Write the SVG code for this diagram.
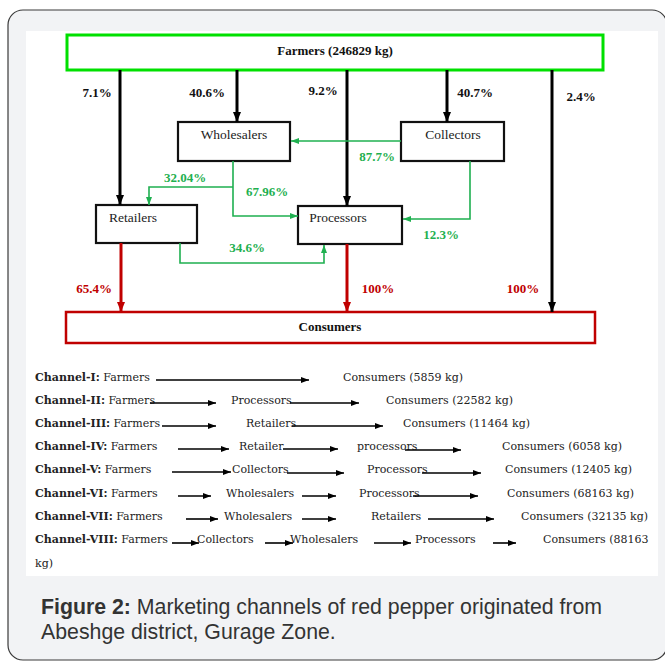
<svg xmlns="http://www.w3.org/2000/svg" width="665" height="664" viewBox="0 0 665 664">
<defs>
<style>
.frame{fill:#f2f3f5;stroke:#3a3a3a;stroke-width:1.2}
.box{fill:#fff;stroke:#111;stroke-width:2.2}
.nl{font-family:"Liberation Serif",serif;font-size:13.5px;fill:#222;text-anchor:middle}
.bl{font-family:"Liberation Serif",serif;font-size:13px;font-weight:bold;fill:#111;text-anchor:middle}
.gp{font-family:"Liberation Serif",serif;font-size:13px;font-weight:bold;fill:#1fb050;text-anchor:middle}
.rp{font-family:"Liberation Serif",serif;font-size:13px;font-weight:bold;fill:#c00000;text-anchor:middle}
.blk{stroke:#000;stroke-width:3;fill:none}
.red{stroke:#c00000;stroke-width:3;fill:none}
.grn{stroke:#1fb050;stroke-width:1.6;fill:none}
.ch{stroke:#000;stroke-width:1.6;fill:none}
.ct{font-family:"DejaVu Serif",serif;font-size:11px;fill:#222}
.cap{font-family:"Liberation Sans",Arial,sans-serif;font-size:21.3px;fill:#333}
</style>
<marker id="ab" viewBox="0 0 10 8" refX="10" refY="4" markerWidth="10" markerHeight="8" markerUnits="userSpaceOnUse" orient="auto"><path d="M0,0 L10,4 L0,8 z" fill="#000"/></marker>
<marker id="ar" viewBox="0 0 10 8" refX="10" refY="4" markerWidth="10" markerHeight="8" markerUnits="userSpaceOnUse" orient="auto"><path d="M0,0 L10,4 L0,8 z" fill="#c00000"/></marker>
<marker id="ag" viewBox="0 0 8 6" refX="8" refY="3" markerWidth="8" markerHeight="6" markerUnits="userSpaceOnUse" orient="auto"><path d="M0,0 L8,3 L0,6 z" fill="#1fb050"/></marker>
<marker id="ac" viewBox="0 0 8 6" refX="8" refY="3" markerWidth="8" markerHeight="6" markerUnits="userSpaceOnUse" orient="auto"><path d="M0,0 L8,3 L0,6 z" fill="#000"/></marker>
</defs>
<rect x="8" y="10" width="659" height="650" rx="15" class="frame"/>
<rect x="26" y="31" width="632" height="545" fill="#fff"/>

<g id="farmers"><rect x="67" y="35" width="536" height="35" fill="#fff" stroke="#00e000" stroke-width="3"/><text x="335" y="55" class="bl" font-size="13.5px">Farmers (246829 kg)</text></g>
<g id="wholesalers"><rect x="178" y="122" width="112" height="39" class="box"/><text x="234" y="139" class="nl">Wholesalers</text></g>
<g id="collectors"><rect x="401" y="122" width="103" height="39" class="box"/><text x="453" y="139" class="nl">Collectors</text></g>
<g id="retailers"><rect x="96" y="205" width="101" height="38" class="box"/><text x="133" y="222" class="nl">Retailers</text></g>
<g id="processors"><rect x="298" y="206" width="104" height="38" class="box"/><text x="338" y="222" class="nl">Processors</text></g>
<g id="consumers"><rect x="66" y="312" width="529" height="31" fill="#fff" stroke="#c00000" stroke-width="2.5"/><text x="330" y="331" class="bl" font-size="13.5px">Consumers</text></g>

<g id="connectors">
<path class="blk" d="M120,70 V205" marker-end="url(#ab)"/>
<path class="blk" d="M237,70 V122" marker-end="url(#ab)"/>
<path class="blk" d="M347,70 V206" marker-end="url(#ab)"/>
<path class="blk" d="M447,70 V122" marker-end="url(#ab)"/>
<path class="blk" d="M552,70 V312" marker-end="url(#ab)"/>
<path class="red" d="M121,243 V312" marker-end="url(#ar)"/>
<path class="red" d="M347,244 V312" marker-end="url(#ar)"/>
<path class="grn" d="M401,141 H291" marker-end="url(#ag)"/>
<path class="grn" d="M233,161 V216 H298" marker-end="url(#ag)"/>
<path class="grn" d="M233,187 H149 V205" marker-end="url(#ag)"/>
<path class="grn" d="M470,161 V219 H403" marker-end="url(#ag)"/>
<path class="grn" d="M180,243 V263 H324 V245" marker-end="url(#ag)"/>
</g>

<g id="labels">
<text x="97" y="97" class="bl">7.1%</text>
<text x="207" y="97" class="bl">40.6%</text>
<text x="323" y="95" class="bl">9.2%</text>
<text x="475" y="97" class="bl">40.7%</text>
<text x="581" y="101" class="bl">2.4%</text>
<text x="377" y="161" class="gp">87.7%</text>
<text x="185" y="182" class="gp">32.04%</text>
<text x="267" y="196" class="gp">67.96%</text>
<text x="441" y="239" class="gp">12.3%</text>
<text x="247" y="252" class="gp">34.6%</text>
<text x="94" y="293" class="rp">65.4%</text>
<text x="378" y="293" class="rp">100%</text>
<text x="523" y="293" class="rp">100%</text>
</g>

<g id="channels">
<text x="35" y="381" class="ct"><tspan font-weight="bold">Channel-I:</tspan> Farmers</text>
<path class="ch" d="M156,380 H309" marker-end="url(#ac)"/>
<text x="343" y="381" class="ct">Consumers (5859 kg)</text>

<text x="35" y="404" class="ct"><tspan font-weight="bold">Channel-II:</tspan> Farmers</text>
<path class="ch" d="M150,403 H216" marker-end="url(#ac)"/>
<text x="231" y="404" class="ct">Processors</text>
<path class="ch" d="M290,403 H359" marker-end="url(#ac)"/>
<text x="386" y="404" class="ct">Consumers (22582 kg)</text>

<text x="35" y="427" class="ct"><tspan font-weight="bold">Channel-III:</tspan> Farmers</text>
<path class="ch" d="M162,426 H216" marker-end="url(#ac)"/>
<text x="246" y="427" class="ct">Retailers</text>
<path class="ch" d="M292,426 H383" marker-end="url(#ac)"/>
<text x="403" y="427" class="ct">Consumers (11464 kg)</text>

<text x="35" y="450" class="ct"><tspan font-weight="bold">Channel-IV:</tspan> Farmers</text>
<path class="ch" d="M178,449 H229" marker-end="url(#ac)"/>
<text x="239" y="450" class="ct">Retailer</text>
<path class="ch" d="M283,449 H338" marker-end="url(#ac)"/>
<text x="357" y="450" class="ct">processors</text>
<path class="ch" d="M405,450 H461" marker-end="url(#ac)"/>
<text x="502" y="450" class="ct">Consumers (6058 kg)</text>

<text x="35" y="473" class="ct"><tspan font-weight="bold">Channel-V:</tspan> Farmers</text>
<path class="ch" d="M172,472 H231" marker-end="url(#ac)"/>
<text x="232" y="473" class="ct">Collectors</text>
<path class="ch" d="M287,473 H344" marker-end="url(#ac)"/>
<text x="367" y="473" class="ct">Processors</text>
<path class="ch" d="M422,473 H481" marker-end="url(#ac)"/>
<text x="505" y="473" class="ct">Consumers (12405 kg)</text>

<text x="35" y="497" class="ct"><tspan font-weight="bold">Channel-VI:</tspan> Farmers</text>
<path class="ch" d="M178,496 H211" marker-end="url(#ac)"/>
<text x="226" y="497" class="ct">Wholesalers</text>
<path class="ch" d="M302,496 H336" marker-end="url(#ac)"/>
<text x="359" y="497" class="ct">Processors</text>
<path class="ch" d="M413,496 H478" marker-end="url(#ac)"/>
<text x="507" y="497" class="ct">Consumers (68163 kg)</text>

<text x="35" y="520" class="ct"><tspan font-weight="bold">Channel-VII:</tspan> Farmers</text>
<path class="ch" d="M186,519 H218" marker-end="url(#ac)"/>
<text x="224" y="520" class="ct">Wholesalers</text>
<path class="ch" d="M302,519 H336" marker-end="url(#ac)"/>
<text x="371" y="520" class="ct">Retailers</text>
<path class="ch" d="M428,519 H494" marker-end="url(#ac)"/>
<text x="521" y="520" class="ct">Consumers (32135 kg)</text>

<text x="35" y="543" class="ct"><tspan font-weight="bold">Channel-VIII:</tspan> Farmers</text>
<path class="ch" d="M172,543 H199" marker-end="url(#ac)"/>
<text x="197" y="543" class="ct">Collectors</text>
<path class="ch" d="M265,543 H293" marker-end="url(#ac)"/>
<text x="290" y="543" class="ct">Wholesalers</text>
<path class="ch" d="M374,543 H411" marker-end="url(#ac)"/>
<text x="415" y="543" class="ct">Processors</text>
<path class="ch" d="M493,543 H516" marker-end="url(#ac)"/>
<text x="543" y="543" class="ct">Consumers (88163</text>
<text x="35" y="567" class="ct">kg)</text>
</g>

<g id="caption">
<text x="41" y="614" class="cap"><tspan font-weight="bold">Figure 2:</tspan> Marketing channels of red pepper originated from</text>
<text x="41" y="639" class="cap">Abeshge district, Gurage Zone.</text>
</g>
</svg>
